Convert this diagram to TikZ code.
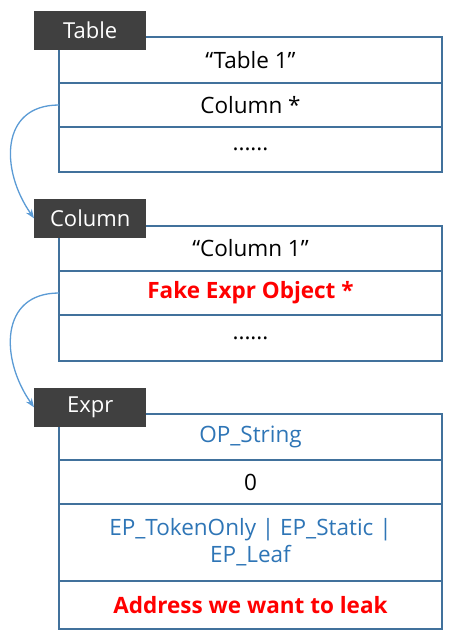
\documentclass[tikz,border=0pt]{standalone}
\usepackage{fontspec}
\setmainfont{Open Sans}
\usetikzlibrary{positioning, arrows.meta}
\definecolor{boxline}{HTML}{41719C}
\definecolor{taggray}{HTML}{404040}
\definecolor{linkblue}{HTML}{5B9BD5}
\definecolor{fieldblue}{HTML}{2E75B6}
\definecolor{leakred}{HTML}{FF0000}

\begin{document}
\begin{tikzpicture}[
        % ----- global styles -----
        x=1pt, y=-1pt,
        >={Stealth[length=9pt, width=7pt]},
        node distance = 0pt,
        % one field of a struct
        field/.style={draw=boxline, line width=1.5pt, minimum width=383pt, inner sep=0pt, outer sep=0pt, font=\fontsize{22.5}{27}\selectfont},
        % struct name on top
        tag/.style={fill=taggray, text=white, minimum width=112pt, minimum height=39pt, inner sep=0pt, anchor=south west, font=\fontsize{22}{26}\selectfont},
        hot/.style={text=leakred, font=\fontsize{22.5}{27}\selectfont\bfseries},
        link/.style={->, draw=linkblue, line width=1.3pt, out=180, in=125, looseness=1.3}
    ]
    \useasboundingbox (0,0) rectangle (450,638);

    % ----- Table -----
    \node[field, minimum height=46pt] (tab1) at (250.5,60) {“Table 1”};
    \node[field, minimum height=44pt, below=of tab1] (tab2) {Column *};
    \node[field, minimum height=45pt, below=of tab2] (tab3) {......};
    \node[tag] (tabtag) at ([shift={(-25pt,-13pt)}]tab1.north west) {Table};

    % ----- Column -----
    \node[field, minimum height=45pt] (col1) at (250.5,248.5) {“Column 1”};
    \node[field, minimum height=44pt, below=of col1, hot] (col2) {Fake Expr Object *};
    \node[field, minimum height=46pt, below=of col2] (col3) {......};
    \node[tag] (coltag) at ([shift={(-25pt,-12pt)}]col1.north west) {Column};

    % ----- Expr -----
    \node[field, minimum height=46pt, text=fieldblue] (expr1) at (250.5,437) {OP\_String};
    \node[field, minimum height=44pt, below=of expr1] (expr2) {0};
    \node[field, minimum height=77pt, below=of expr2, text=fieldblue, align=center] (expr3) {EP\_TokenOnly | EP\_Static |\\EP\_Leaf};
    \node[field, minimum height=48pt, below=of expr3, hot] (expr4) {Address we want to leak};
    \node[tag] (exprtag) at ([shift={(-25pt,-13pt)}]expr1.north west) {Expr};

    % ----- pointers -----
    \draw[link] (tab2.west) to (coltag.west);
    \draw[link] (col2.west) to (exprtag.west);
\end{tikzpicture}
\end{document}
